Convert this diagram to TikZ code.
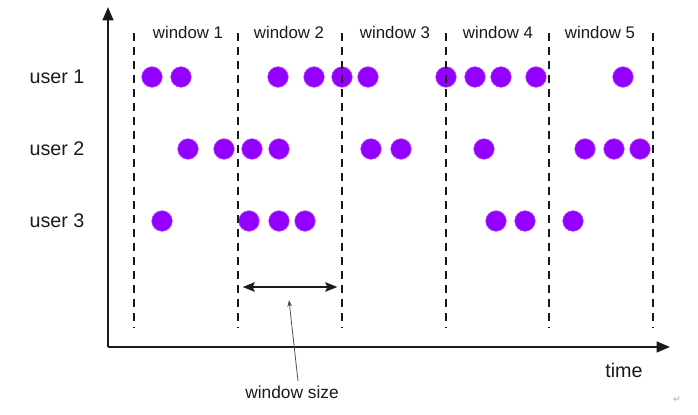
\documentclass[tikz,border=0pt]{standalone}
\usepackage{fontspec}
\setmainfont{Liberation Sans}
\newfontfamily\symfont{DejaVu Sans}
\usetikzlibrary{arrows.meta}
\definecolor{dotPurple}{HTML}{9400FF}
\definecolor{dotEdge}{HTML}{C060FF}
\definecolor{inkBlack}{HTML}{1A1A1A}
\definecolor{pointerGray}{HTML}{505050}

\begin{document}
\begin{tikzpicture}[
    x=0.75pt, y=-0.75pt,
    event/.style={
        circle, fill=dotPurple, draw=dotEdge,
        line width=0.4pt, inner sep=0pt, minimum size=15.5pt
    },
    boundary/.style={dash pattern=on 6pt off 4.5pt, line width=1.4pt, draw=inkBlack},
    axis/.style={-{Triangle[length=10pt, width=8pt]}, line width=1.6pt, draw=inkBlack},
    sizearrow/.style={{Stealth[length=9pt, width=7pt, inset=1.5pt]}-{Stealth[length=9pt, width=7pt, inset=1.5pt]}, line width=1.5pt, draw=inkBlack},
    pointer/.style={-{Stealth[length=5pt, width=3.5pt]}, line width=0.6pt, draw=pointerGray},
    winlabel/.style={font=\fontsize{12.6}{15}\selectfont, text=inkBlack},
    userlabel/.style={font=\fontsize{14.8}{17}\selectfont, text=inkBlack}
]
  \useasboundingbox (0,0) rectangle (698,414);

  % Axes
  \coordinate (origin) at (108,347);
  \coordinate (yend) at (108,7);
  \coordinate (xend) at (670,347);
  \draw[axis] (origin) -- (yend);
  \draw[axis] (origin) -- (xend);
  \node[userlabel] (time) at (624,370) {time};

  % User rows
  \node[userlabel] (user1) at (57,77) {user 1};
  \node[userlabel] (user2) at (57,149) {user 2};
  \node[userlabel] (user3) at (57,221) {user 3};

  % Events of each user
  \foreach \x [count=\i] in {152,181,278,314,342,368,446,475,501,536,623}
    \node[event] (u1e\i) at (\x,77) {};
  \foreach \x [count=\i] in {188,224,252,279,371,401,484,585,614,640}
    \node[event] (u2e\i) at (\x,149) {};
  \foreach \x [count=\i] in {162,249,279,305,496,525,573}
    \node[event] (u3e\i) at (\x,221) {};

  % Window boundaries (drawn over the events)
  \foreach \x [count=\i from 0] in {134,238,342,446,549,653} {
    \coordinate (top\i) at (\x,33);
    \coordinate (bot\i) at (\x,328);
    \draw[boundary] (top\i) -- (bot\i);
  }

  % Window titles
  \node[winlabel] (win1) at (188,32) {window 1};
  \node[winlabel] (win2) at (289,32) {window 2};
  \node[winlabel] (win3) at (395,32) {window 3};
  \node[winlabel] (win4) at (498,32) {window 4};
  \node[winlabel] (win5) at (600,32) {window 5};

  % Window size marker
  \coordinate (sizeL) at (238,287);
  \coordinate (sizeR) at (342,287);
  \draw[sizearrow, shorten <=3.5pt, shorten >=3.5pt] (sizeL) -- (sizeR);
  \node[winlabel, font=\fontsize{13}{15}\selectfont] (sizetext) at (292,392) {window size};
  \coordinate (sizetip) at (289,300);
  \draw[pointer] ([xshift=4.5pt]sizetext.north) -- (sizetip);

  \node[text=gray!70, font=\symfont\fontsize{7}{8}\selectfont] (retmark) at (677,400) {↵};
\end{tikzpicture}
\end{document}
